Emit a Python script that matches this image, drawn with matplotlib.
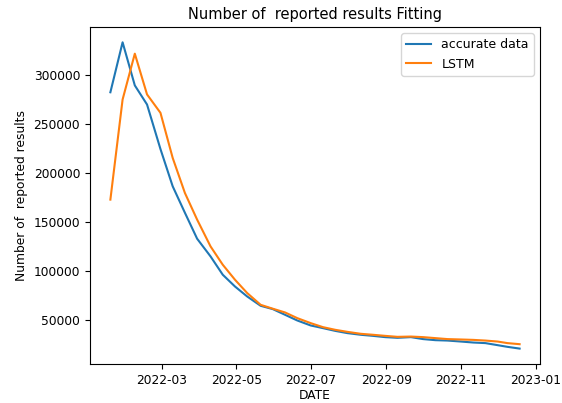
import matplotlib
matplotlib.use("Agg")
import matplotlib.pyplot as plt
import matplotlib.dates as mdates
import pandas as pd

dates = ["2022-01-18", "2022-01-28", "2022-02-07", "2022-02-17", "2022-02-28",
         "2022-03-10", "2022-03-20", "2022-03-30", "2022-04-10", "2022-04-20",
         "2022-04-30", "2022-05-10", "2022-05-21", "2022-05-31", "2022-06-10",
         "2022-06-20", "2022-07-01", "2022-07-11", "2022-07-21", "2022-07-31",
         "2022-08-11", "2022-08-21", "2022-08-31", "2022-09-10", "2022-09-21",
         "2022-10-01", "2022-10-11", "2022-10-21", "2022-11-01", "2022-11-11",
         "2022-11-21", "2022-12-01", "2022-12-09", "2022-12-19"]

accurate = [282000, 333000, 289000, 269500, 224000, 186000, 159000, 132500,
            114400, 95700, 83700, 73500, 64000, 60600, 54800, 49000, 43900,
            41200, 38400, 36100, 34400, 33300, 32000, 31300, 32000, 30000,
            28900, 28500, 27500, 26500, 25900, 23800, 22100, 20300]

lstm = [172400, 274600, 321400, 279800, 261000, 215000, 179200, 152000,
        124600, 105900, 90600, 77000, 65000, 61000, 57200, 51400, 46300,
        42200, 39500, 37400, 35400, 34400, 33300, 32300, 32600, 32000,
        31000, 30000, 29600, 29200, 28500, 27500, 25900, 24800]

x = pd.to_datetime(dates)

fig = plt.figure(figsize=(5.62, 4.03), dpi=100)
ax = fig.add_axes([0.16, 0.097, 0.801, 0.836])
ax.plot(x, accurate, color="#1f77b4", lw=1.5, label="accurate data")
ax.plot(x, lstm, color="#ff7f0e", lw=1.5, label="LSTM")

ax.xaxis.set_major_locator(mdates.MonthLocator(bymonth=[1, 3, 5, 7, 9, 11]))
ax.xaxis.set_major_formatter(mdates.DateFormatter("%Y-%m"))
ax.tick_params(labelsize=8.8)
ax.set_title("Number of  reported results Fitting", fontsize=10.5)
ax.set_xlabel("DATE", fontsize=8.8, labelpad=1.5)
ax.set_ylabel("Number of  reported results", fontsize=8.8)
ax.legend(loc="upper right", fontsize=9)

fig.savefig("out.png", dpi=100)
